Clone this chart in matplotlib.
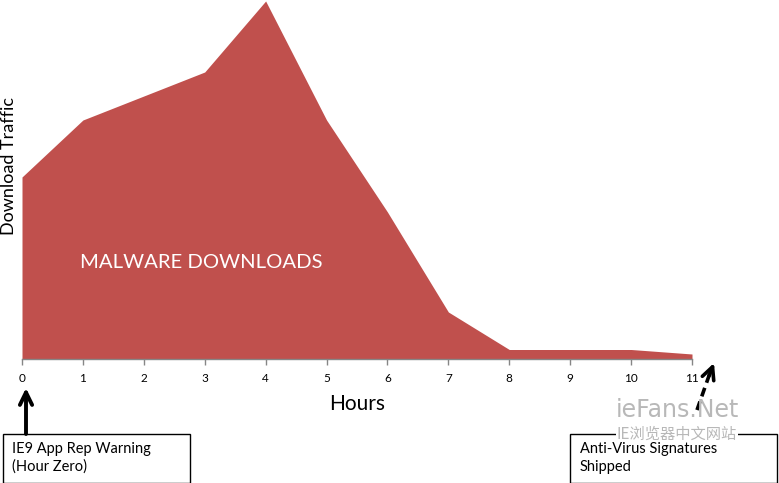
import matplotlib
matplotlib.use("Agg")
import matplotlib.pyplot as plt
from matplotlib.patches import Rectangle, FancyArrowPatch
from matplotlib.lines import Line2D

hours = [0, 1, 2, 3, 4, 5, 6, 7, 8, 9, 10, 11]
downloads = [182, 239, 263, 287, 358, 239, 147, 47, 9.5, 9.5, 9.5, 5]
tick_labels = [str(h) for h in hours]

W, H = 779, 483
FONT = "Lato"
plt.rcParams['font.family'] = [FONT, 'DejaVu Sans']

fig = plt.figure(figsize=(W / 100, H / 100), dpi=100)
fig.patch.set_facecolor("white")

def fx(px):
    return px / W

def fy(py):
    return 1 - py / H

ax = fig.add_axes([fx(22), fy(359), fx(692) - fx(22), fy(1) - fy(359)])
ax.fill_between(hours, downloads, 0, color="#C0504D", linewidth=0)
ax.set_xlim(0, 11)
ax.set_ylim(0, 358)
ax.set_xticks(hours)
ax.set_xticklabels(tick_labels, fontsize=8.5, color="#000000")
ax.set_yticks([])
for s in ["top", "right", "left"]:
    ax.spines[s].set_visible(False)
ax.spines["bottom"].set_color("#868686")
ax.spines["bottom"].set_linewidth(1)
ax.tick_params(axis="x", direction="out", length=4, width=1, color="#868686", pad=6)
ax.set_facecolor("none")

fig.text(fx(80), fy(263), "MALWARE DOWNLOADS", color="white",
         fontsize=14.6, va="center", ha="left")

fig.text(fx(357), fy(404), "Hours", fontsize=15, ha="center", va="center")
fig.text(fx(9), fy(166), "Download Traffic", fontsize=13, rotation=90,
         ha="center", va="center")

# Left annotation box
fig.patches.append(Rectangle((fx(3), fy(483)), fx(190) - fx(3), fy(434) - fy(483),
                             transform=fig.transFigure, fill=False, edgecolor="black",
                             linewidth=1))
fig.text(fx(12), fy(449), "IE9 App Rep Warning", fontsize=10.5, va="center", ha="left")
fig.text(fx(12), fy(467), "(Hour Zero)", fontsize=10.5, va="center", ha="left")
fig.patches.append(FancyArrowPatch((fx(26), fy(434)), (fx(26), fy(388)),
                                   transform=fig.transFigure,
                                   arrowstyle="->,head_length=0.45,head_width=0.22",
                                   color="black", linewidth=2.8, mutation_scale=20,
                                   shrinkA=0, shrinkB=0))

# Watermark
fig.text(fx(677), fy(410), "ieFans.Net", fontsize=17, color="#b8b8b8",
         ha="center", va="center", family=["DejaVu Sans"])

# Right annotation box
fig.patches.append(Rectangle((fx(570), fy(483)), fx(777) - fx(570), fy(434) - fy(483),
                             transform=fig.transFigure, fill=False, edgecolor="black",
                             linewidth=1))
fig.text(fx(677), fy(434), "IE浏览器中文网站", fontsize=11, color="#b8b8b8",
         ha="center", va="center", family=["Noto Sans CJK SC", "DejaVu Sans"],
         bbox=dict(facecolor="white", edgecolor="none", pad=0.3))
fig.text(fx(580), fy(449), "Anti-Virus Signatures", fontsize=10.5, va="center", ha="left")
fig.text(fx(580), fy(467), "Shipped", fontsize=10.5, va="center", ha="left")

# dashed arrow
fig.add_artist(Line2D([fx(697), fx(711)], [fy(410), fy(370)], transform=fig.transFigure,
                      color="black", linewidth=2.6, linestyle=(0, (2.5, 1.5))))
fig.patches.append(FancyArrowPatch((fx(709), fy(376)), (fx(714), fy(363)),
                                   transform=fig.transFigure,
                                   arrowstyle="->,head_length=0.45,head_width=0.22",
                                   color="black", linewidth=2.6, mutation_scale=20,
                                   shrinkA=0, shrinkB=0))

fig.savefig("out.png", dpi=100)
